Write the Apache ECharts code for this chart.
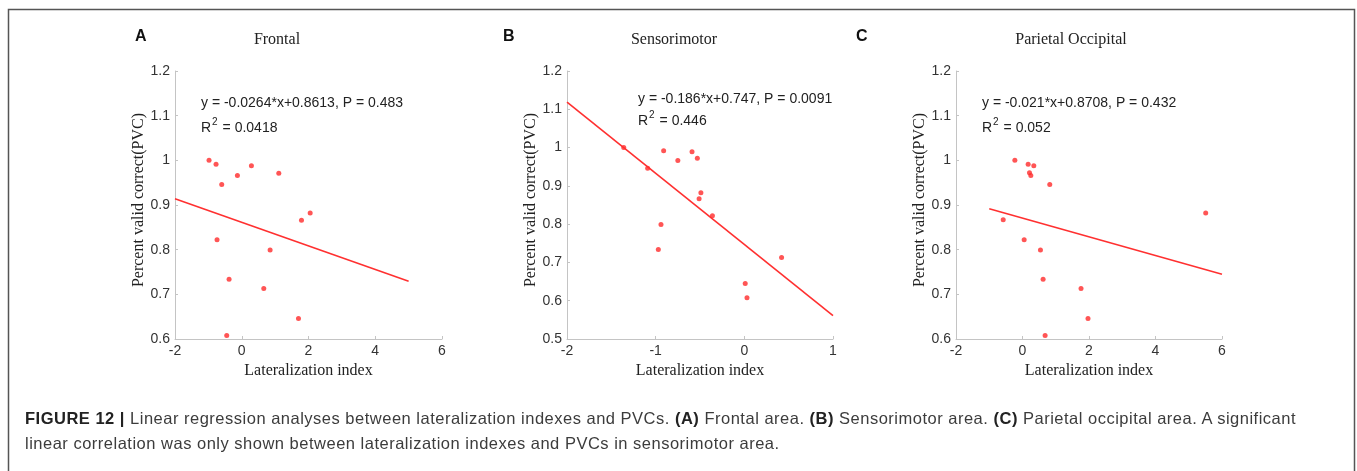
<!DOCTYPE html>
<html>
<head>
<meta charset="utf-8">
<script src="https://cdn.jsdelivr.net/npm/echarts@6/dist/echarts.min.js"></script>
<style>
html,body{margin:0;padding:0;background:#fff;}
#wrap{position:relative;width:1357px;height:471px;overflow:hidden;}
#c{width:1357px;height:471px;}
#cap{position:absolute;left:25px;top:406px;font-family:"Liberation Sans",Arial,sans-serif;font-size:16.5px;line-height:25px;letter-spacing:0.5px;color:#3c3c3c;white-space:nowrap;}
#cap b{color:#222;}
</style>
</head>
<body>
<div id="wrap">
<div id="c"></div>
<div id="cap"></div>
</div>
<script>
// ---- Data ----
const panelTitles = ['Frontal', 'Sensorimotor', 'Parietal Occipital'];
const panelLetters = ['A', 'B', 'C'];

const xFrontal = [-0.98, -0.77, -0.60, -0.13, 0.29, 1.11, 2.05, 1.79, -0.74, 0.85, -0.38, 0.66, 1.70, -0.45];
const yFrontal = [1.000, 0.991, 0.946, 0.966, 0.988, 0.971, 0.882, 0.866, 0.822, 0.799, 0.734, 0.713, 0.646, 0.608];

const xSensori = [-1.36, -1.09, -0.91, -0.75, -0.59, -0.53, -0.49, -0.51, -0.36, -0.94, -0.97, 0.42, 0.01, 0.03];
const ySensori = [1.000, 0.946, 0.992, 0.966, 0.989, 0.972, 0.882, 0.866, 0.822, 0.799, 0.734, 0.713, 0.645, 0.608];

const xParietal = [-0.23, 0.17, 0.34, 0.21, 0.25, 0.82, 5.51, -0.58, 0.05, 0.54, 0.62, 1.76, 1.97, 0.68];
const yParietal = [1.000, 0.991, 0.988, 0.972, 0.966, 0.946, 0.882, 0.867, 0.822, 0.799, 0.734, 0.713, 0.646, 0.608];

// regression lines (slope, intercept as printed) and x range drawn
const fitSlope = [-0.0264, -0.186, -0.021];
const fitIntercept = [0.8613, 0.747, 0.8708];
const fitRange = [[-2, 5], [-2, 1], [-1, 6]];

const eqText = ['y = -0.0264*x+0.8613, P = 0.483', 'y = -0.186*x+0.747, P = 0.0091', 'y = -0.021*x+0.8708, P = 0.432'];
const r2Value = ['0.0418', '0.446', '0.052'];

const xMin = [-2, -2, -2], xMax = [6, 1, 6], xInt = [2, 1, 2];
const yMin = [0.6, 0.5, 0.6], yMax = [1.2, 1.2, 1.2], yInt = [0.1, 0.1, 0.1];

const xName = 'Lateralization index';
const yName = 'Percent valid correct(PVC)';

const captionHTML = '<b>FIGURE 12 |</b> Linear regression analyses between lateralization indexes and PVCs. <b>(A)</b> Frontal area. <b>(B)</b> Sensorimotor area. <b>(C)</b> Parietal occipital area. A significant<br>linear correlation was only shown between lateralization indexes and PVCs in sensorimotor area.';

// ---- Layout ----
const gridLefts = [175, 567, 956];
const gridWidths = [267, 266, 266];
const gridTop = 71, gridHeight = 268;
const titleX = [277, 674, 1071];
const letterX = [135, 503, 856];
const eqX = [201, 638, 982];
const eqY = [103, 99, 103];
const r2Y = [126, 119, 126];

const xs = [xFrontal, xSensori, xParietal];
const ys = [yFrontal, ySensori, yParietal];

const axisCol = '#c4c4c4';
const grids = [], xAxes = [], yAxes = [], series = [], graphics = [];

for (let i = 0; i < 3; i++) {
  grids.push({left: gridLefts[i], top: gridTop, width: gridWidths[i], height: gridHeight, containLabel: false});
  xAxes.push({
    gridIndex: i, type: 'value', min: xMin[i], max: xMax[i], interval: xInt[i],
    axisLine: {show: true, onZero: false, lineStyle: {color: axisCol, width: 1}},
    axisTick: {show: true, inside: true, length: 3, lineStyle: {color: axisCol}},
    splitLine: {show: false},
    axisLabel: {color: '#333', fontSize: 14, fontFamily: 'Liberation Sans', margin: 5},
    name: xName, nameLocation: 'middle', nameGap: 24,
    nameTextStyle: {fontFamily: 'Liberation Serif', fontSize: 16, color: '#222'}
  });
  yAxes.push({
    gridIndex: i, type: 'value', min: yMin[i], max: yMax[i], interval: yInt[i],
    axisLine: {show: true, onZero: false, lineStyle: {color: axisCol, width: 1}},
    axisTick: {show: true, inside: true, length: 3, lineStyle: {color: axisCol}},
    splitLine: {show: false},
    axisLabel: {color: '#333', fontSize: 14, fontFamily: 'Liberation Sans', margin: 5},
    name: yName, nameLocation: 'middle', nameGap: 23,
    nameTextStyle: {fontFamily: 'Liberation Serif', fontSize: 16, color: '#222', padding: [0, 0, 0, 10]}
  });
  series.push({
    type: 'scatter', xAxisIndex: i, yAxisIndex: i,
    data: xs[i].map((x, k) => [x, ys[i][k]]),
    symbol: 'circle', symbolSize: 5,
    itemStyle: {color: '#ff2a2a'}, silent: true
  });
  series.push({
    type: 'line', xAxisIndex: i, yAxisIndex: i,
    data: fitRange[i].map(x => [x, fitSlope[i] * x + fitIntercept[i]]),
    symbol: 'none', lineStyle: {color: '#ff3030', width: 1.6}, silent: true
  });
  graphics.push({type: 'text', x: titleX[i], y: 40, style: {text: panelTitles[i], font: '16px "Liberation Serif"', fill: '#222', textAlign: 'center', textVerticalAlign: 'middle'}});
  graphics.push({type: 'text', x: letterX[i], y: 37, style: {text: panelLetters[i], font: 'bold 16px "Liberation Sans"', fill: '#111', textVerticalAlign: 'middle'}});
  graphics.push({type: 'text', x: eqX[i], y: eqY[i], style: {text: eqText[i], font: '14px "Liberation Sans"', fill: '#222', textVerticalAlign: 'middle'}});
  graphics.push({type: 'text', x: eqX[i], y: r2Y[i], style: {
    text: '{n|R}{s|2}{n| = ' + r2Value[i] + '}', textVerticalAlign: 'middle',
    rich: {
      n: {fontSize: 14, fontFamily: 'Liberation Sans', fill: '#222', verticalAlign: 'bottom', lineHeight: 18},
      s: {fontSize: 10, fontFamily: 'Liberation Sans', fill: '#222', verticalAlign: 'top', lineHeight: 18, padding: [0, 1, 6, 1]}
    }
  }});
}

// frame
graphics.push({type: 'rect', shape: {x: 8.5, y: 9.5, width: 1346, height: 480}, style: {fill: 'none', stroke: '#555', lineWidth: 1.5}, z: 0});

document.getElementById('cap').innerHTML = captionHTML;

const chart = echarts.init(document.getElementById('c'), null, {renderer: 'canvas'});
chart.setOption({
  backgroundColor: '#fff',
  animation: false,
  grid: grids, xAxis: xAxes, yAxis: yAxes, series: series,
  graphic: graphics
});
</script>
</body>
</html>
